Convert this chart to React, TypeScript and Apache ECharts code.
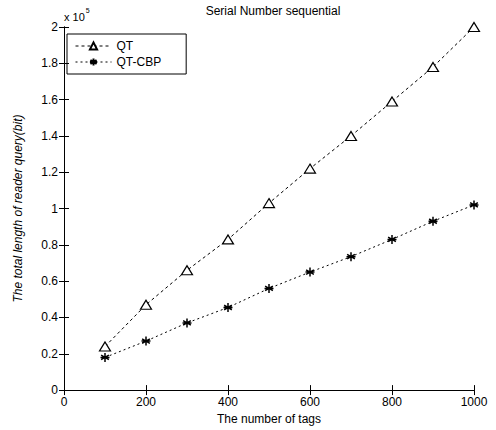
import React, { useEffect, useRef } from "react";
import * as echarts from "echarts";

const tags = [100, 200, 300, 400, 500, 600, 700, 800, 900, 1000];
const qtValues = [0.24, 0.47, 0.66, 0.83, 1.03, 1.22, 1.4, 1.59, 1.78, 2.0];
const qtCbpValues = [0.18, 0.27, 0.37, 0.455, 0.56, 0.65, 0.735, 0.83, 0.93, 1.02];
const xTicks = [0, 200, 400, 600, 800, 1000];
const yTicks = [0, 0.2, 0.4, 0.6, 0.8, 1, 1.2, 1.4, 1.6, 1.8, 2];

const FONT = "Liberation Sans";
const ASTERISK = "path://M5,0L5,10M0.7,2.5L9.3,7.5M0.7,7.5L9.3,2.5M0,5L10,5";

export default function App() {
  const ref = useRef<HTMLDivElement>(null);
  useEffect(() => {
    if (!ref.current) return;
    const chart = echarts.init(ref.current, null, { renderer: "svg" });
    const axisCommon = {
      axisLine: { show: true, lineStyle: { color: "#000", width: 1 } },
      axisTick: { show: true, inside: true, length: 5, lineStyle: { color: "#000" } },
      splitLine: { show: false },
    };
    chart.setOption({
      animation: false,
      backgroundColor: "#fff",
      textStyle: { fontFamily: FONT },
      title: {
        text: "Serial Number sequential",
        left: 268,
        top: 0,
        textAlign: "center",
        textStyle: { fontSize: 12, fontWeight: "normal", color: "#000", fontFamily: FONT },
      },
      graphic: [
        {
          type: "text",
          left: 64,
          top: 7,
          style: {
            text: "{a|x 10}{b|5}",
            rich: {
              a: { fontSize: 11, fill: "#000", fontFamily: FONT, verticalAlign: "bottom" },
              b: { fontSize: 7, fill: "#000", fontFamily: FONT, verticalAlign: "top", padding: [0, 0, 8, 1] },
            },
          },
        },
      ],
      legend: {
        orient: "vertical",
        left: 67,
        top: 34,
        borderColor: "#000",
        borderWidth: 1,
        padding: [6, 25, 6, 8],
        itemWidth: 36,
        itemHeight: 9,
        itemGap: 4,
        lineStyle: { width: 1 },
        textStyle: { fontSize: 12, color: "#000", fontFamily: FONT },
        data: ["QT", "QT-CBP"],
      },
      grid: { left: 64, right: 22, top: 27, bottom: 38 },
      xAxis: [
        {
          type: "value",
          min: 0,
          max: 1000,
          interval: 200,
          name: "The number of tags",
          nameLocation: "middle",
          nameGap: 22,
          nameTextStyle: { fontSize: 12, color: "#000", fontFamily: FONT },
          axisLabel: {
            color: "#000",
            fontSize: 12,
            margin: 6,
            customValues: xTicks,
            formatter: (v: number) => String(v),
          },
          ...axisCommon,
        },
        {
          type: "value",
          position: "top",
          min: 0,
          max: 1000,
          interval: 200,
          axisLabel: { show: false },
          ...axisCommon,
        },
      ],
      yAxis: [
        {
          type: "value",
          min: 0,
          max: 2,
          interval: 0.2,
          name: "The total length of reader query(bit)",
          nameLocation: "middle",
          nameGap: 40,
          nameTextStyle: { fontSize: 12, color: "#000", fontStyle: "italic", fontFamily: FONT },
          axisLabel: {
            color: "#000",
            fontSize: 12,
            margin: 6,
            customValues: yTicks,
          },
          ...axisCommon,
        },
        {
          type: "value",
          position: "right",
          min: 0,
          max: 2,
          interval: 0.2,
          axisLabel: { show: false },
          ...axisCommon,
        },
      ],
      series: [
        {
          name: "QT",
          type: "line",
          data: tags.map((t, i) => [t, qtValues[i]]),
          symbol: "triangle",
          symbolSize: [11, 9],
          showAllSymbol: true,
          itemStyle: { color: "#fff", borderColor: "#000", borderWidth: 1.2 },
          lineStyle: { color: "#000", width: 1, type: [3, 3] },
        },
        {
          name: "QT-CBP",
          type: "line",
          data: tags.map((t, i) => [t, qtCbpValues[i]]),
          symbol: ASTERISK,
          symbolSize: 9,
          showAllSymbol: true,
          itemStyle: { color: "#000", borderColor: "#000", borderWidth: 1.5 },
          lineStyle: { color: "#000", width: 1, type: [2, 3] },
        },
      ],
    });
    return () => chart.dispose();
  }, []);
  return (
    <div
      ref={ref}
      style={{ position: "absolute", left: 0, top: 0, width: 496, height: 430 }}
    />
  );
}
